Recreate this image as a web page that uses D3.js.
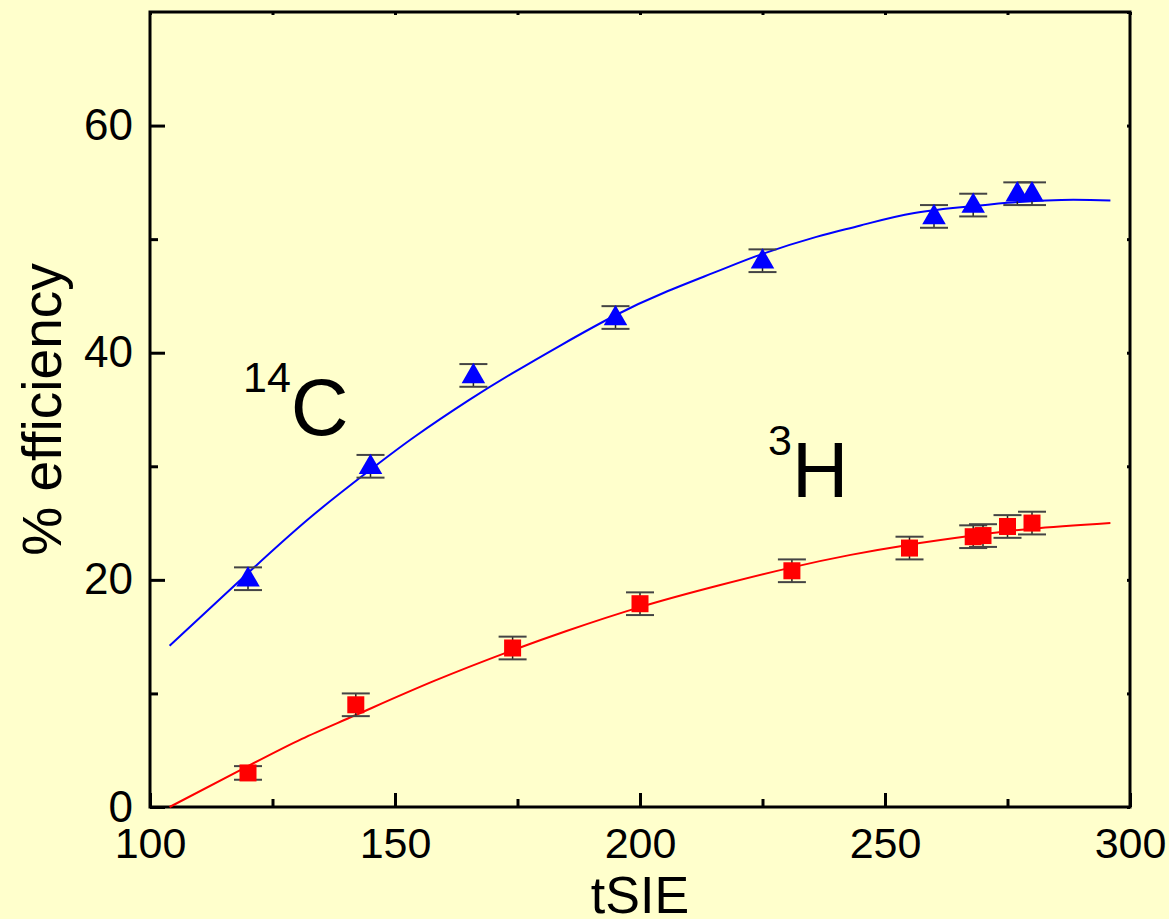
<!DOCTYPE html>
<html>
<head>
<meta charset="utf-8">
<script src="https://cdn.jsdelivr.net/npm/d3@7"></script>
<style>
  html, body { margin: 0; padding: 0; background: #ffffcc; }
  svg { display: block; }
  text { font-family: Arial, "Liberation Sans", sans-serif; fill: #000; }
</style>
</head>
<body>
<svg id="chart" width="1169" height="919"></svg>
<script>
// ---- data ----
const c14X   = [120, 145, 166, 195, 225, 260, 268, 277, 280];
const c14Y   = [20.1, 30.0, 38.0, 43.1, 48.1, 52.0, 53.0, 54.0, 54.0];
const c14Err = [1.0, 1.0, 1.0, 1.0, 1.0, 1.0, 1.0, 1.0, 1.0];

const h3X   = [120, 142, 174, 200, 231, 255, 268, 270, 275, 280];
const h3Y   = [3.0, 9.0, 14.0, 17.9, 20.8, 22.8, 23.8, 23.9, 24.7, 25.0];
const h3Err = [0.6, 1.0, 1.0, 1.0, 1.0, 1.0, 1.0, 1.0, 1.0, 1.0];

// fitted curves
const c14FitX = [104, 120, 133, 145, 154, 165, 174, 184, 195, 205, 216, 225, 236, 245, 256, 268, 275, 286, 296];
const c14FitY = [14.2, 20.6, 25.6, 29.7, 32.6, 35.8, 38.2, 40.7, 43.3, 45.3, 47.2, 48.7, 50.2, 51.2, 52.3, 52.9, 53.2, 53.45, 53.4];
const h3FitX  = [104, 120, 131, 142, 158, 174, 185, 200, 216, 231, 243, 255, 268, 280, 296];
const h3FitY  = [0.0, 3.6, 6.0, 8.1, 11.1, 13.8, 15.5, 17.6, 19.5, 21.1, 22.2, 23.1, 23.9, 24.5, 25.0];

const xTicks = [100, 150, 200, 250, 300];
const yTicks = [0, 20, 40, 60];
const xMinor = [125, 175, 225, 275];
const yMinor = [10, 30, 50, 70];

// ---- layout ----
const svg = d3.select("#chart");
const L = 150, R = 1130, T = 12, B = 807;
const x = d3.scaleLinear().domain([100, 300]).range([L, R]);
const y = d3.scaleLinear().domain([0, 70]).range([B, T]);
const FONT = 'Arial, "Liberation Sans", sans-serif';

svg.append("rect").attr("width", 1169).attr("height", 919).attr("fill", "#ffffcc");

const g = svg.append("g");

// axes frame
g.append("rect").attr("x", L).attr("y", T).attr("width", R - L).attr("height", B - T)
  .attr("fill", "none").attr("stroke", "#000").attr("stroke-width", 3);

// bottom axis
const xAxis = g.append("g").attr("transform", `translate(0,${B})`)
  .call(d3.axisBottom(x).tickValues(xTicks).tickSizeInner(-14).tickSizeOuter(0).tickPadding(20));
g.append("g").attr("transform", `translate(0,${B})`)
  .call(d3.axisBottom(x).tickValues(xMinor).tickSizeInner(-8).tickSizeOuter(0).tickFormat(""));
// left axis
const yAxis = g.append("g").attr("transform", `translate(${L},0)`)
  .call(d3.axisLeft(y).tickValues(yTicks).tickSizeInner(-15).tickSizeOuter(0).tickPadding(17));
g.append("g").attr("transform", `translate(${L},0)`)
  .call(d3.axisLeft(y).tickValues(yMinor.filter(v => v < 70)).tickSizeInner(-8).tickSizeOuter(0).tickFormat(""));
// top / right mirror ticks
g.append("g").attr("transform", `translate(0,${T})`)
  .call(d3.axisTop(x).tickValues(xTicks.concat(xMinor)).tickSizeInner(-3).tickSizeOuter(0).tickFormat(""));
g.append("g").attr("transform", `translate(${R},0)`)
  .call(d3.axisRight(y).tickValues(yTicks.concat(yMinor)).tickSizeInner(-3).tickSizeOuter(0).tickFormat(""));

g.selectAll(".domain").remove();
g.selectAll(".tick line").attr("stroke", "#000").attr("stroke-width", 3);
xAxis.selectAll(".tick text").attr("font-size", 43).attr("fill", "#000")
  .attr("font-family", FONT).attr("dy", "0.71em");
yAxis.selectAll(".tick text").attr("font-size", 44).attr("fill", "#000")
  .attr("font-family", FONT);

// axis titles
svg.append("text").attr("x", x(200)).attr("y", 913).attr("text-anchor", "middle")
  .attr("font-size", 52).text("tSIE");
svg.append("text").attr("transform", `translate(61,${(T + B) / 2}) rotate(-90)`)
  .attr("text-anchor", "middle").attr("font-size", 55).text("% efficiency");

// fit lines
const line = d3.line().x(d => x(d[0])).y(d => y(d[1])).curve(d3.curveNatural);
g.append("path").datum(c14FitX.map((v, i) => [v, c14FitY[i]]))
  .attr("d", line).attr("fill", "none").attr("stroke", "#0000ff").attr("stroke-width", 2);
g.append("path").datum(h3FitX.map((v, i) => [v, h3FitY[i]]))
  .attr("d", line).attr("fill", "none").attr("stroke", "#ff0000").attr("stroke-width", 2);

// error bars
function errBars(xs, ys, es) {
  const eg = g.append("g").attr("stroke", "#444").attr("stroke-width", 2);
  xs.forEach((xv, i) => {
    const cx = x(xv), y1 = y(ys[i] + es[i]), y2 = y(ys[i] - es[i]);
    eg.append("line").attr("x1", cx).attr("x2", cx).attr("y1", y1).attr("y2", y2).attr("stroke", "#222").attr("stroke-width", 1.5);
    eg.append("line").attr("x1", cx - 14).attr("x2", cx + 14).attr("y1", y1).attr("y2", y1);
    eg.append("line").attr("x1", cx - 14).attr("x2", cx + 14).attr("y1", y2).attr("y2", y2);
  });
}
errBars(c14X, c14Y, c14Err);
errBars(h3X, h3Y, h3Err);

// markers
const tri = d3.symbol().type(d3.symbolTriangle).size(240);
g.selectAll(".tri").data(c14X.map((v, i) => [v, c14Y[i]])).join("path")
  .attr("d", tri).attr("transform", d => `translate(${x(d[0])},${y(d[1]) + 1})`)
  .attr("fill", "#0000ff");
g.selectAll(".sq").data(h3X.map((v, i) => [v, h3Y[i]])).join("rect")
  .attr("x", d => x(d[0]) - 8.5).attr("y", d => y(d[1]) - 8.5)
  .attr("width", 17).attr("height", 17).attr("fill", "#ff0000");

// isotope labels
const c = svg.append("text").attr("x", 243).attr("y", 435);
c.append("tspan").attr("font-size", 43).attr("dy", -43).text("14");
c.append("tspan").attr("font-size", 80).attr("dy", 43).text("C");
const h = svg.append("text").attr("x", 768).attr("y", 497);
h.append("tspan").attr("font-size", 43).attr("dy", -42).text("3");
h.append("tspan").attr("font-size", 78).attr("dy", 42).text("H");
</script>
</body>
</html>
